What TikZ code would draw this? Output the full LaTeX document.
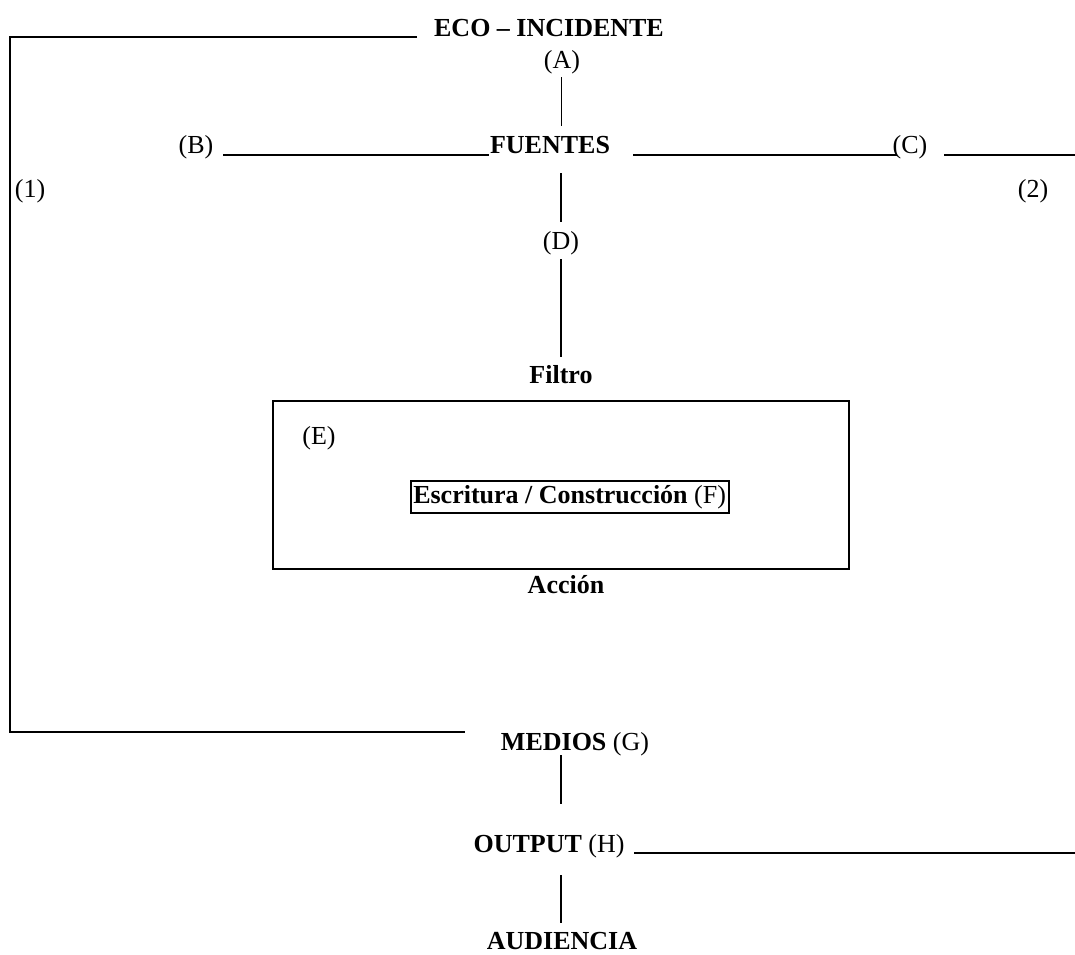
\documentclass[tikz,border=0pt]{standalone}
\usepackage{fontspec}
\setmainfont{Liberation Serif}
\newcommand\myfs{\fontsize{26}{31}\selectfont}
\tikzset{
  lbl/.style={inner sep=0pt, anchor=base, font=\myfs},
  hline/.style={line width=2pt},
  vline/.style={line width=1.7pt},
  boxline/.style={line width=1.9pt}
}
\begin{document}
\begin{tikzpicture}[x=1pt,y=-1pt]
\useasboundingbox (0,0) rectangle (1075,954);
% text nodes
\node[lbl] (eco) at (549,36.5) {\textbf{ECO – INCIDENTE}};
\node[lbl] (A) at (562,68) {(A)};
\node[lbl] (B) at (196,153) {(B)};
\node[lbl] (fuentes) at (550,153) {\textbf{FUENTES}};
\node[lbl] (C) at (910,153) {(C)};
\node[lbl] (one) at (30,197) {(1)};
\node[lbl] (two) at (1033,197) {(2)};
\node[lbl] (D) at (561,249) {(D)};
\node[lbl] (filtro) at (561,383) {\textbf{Filtro}};
\node[lbl] (E) at (319,444) {(E)};
\node[draw, boxline, font=\myfs, inner sep=0pt, minimum width=318pt, minimum height=32pt, anchor=center] (F) at (569.6,497) {\textbf{Escritura / Construcción} (F)};
\node[lbl] (accion) at (566,593) {\textbf{Acción}};
\node[lbl] (medios) at (575,750) {\textbf{MEDIOS} (G)};
\node[lbl] (output) at (549,852) {\textbf{OUTPUT} (H)};
\node[lbl] (audiencia) at (562,949.5) {\textbf{AUDIENCIA}};
% outer action box
\coordinate (boxNW) at (272.6,400.7);
\coordinate (boxSE) at (849.4,569);
\draw[boxline] (boxNW) rectangle (boxSE);
% line endpoints
\coordinate (topR) at (417,37);
\coordinate (topL) at (9.5,37);
\coordinate (botL) at (9.5,732);
\coordinate (botR) at (465,732);
\coordinate (a1) at (561.5,77);
\coordinate (a2) at (561.5,126);
\coordinate (b1) at (223,155);
\coordinate (b2) at (489,155);
\coordinate (c1) at (633,155);
\coordinate (c2) at (897,155);
\coordinate (c3) at (944,155);
\coordinate (c4) at (1075,155);
\coordinate (d1) at (561,173);
\coordinate (d2) at (561,222);
\coordinate (d3) at (561,259);
\coordinate (d4) at (561,357);
\coordinate (g1) at (561,755);
\coordinate (g2) at (561,804);
\coordinate (h1) at (634,853);
\coordinate (h2) at (1075,853);
\coordinate (h3) at (561,875);
\coordinate (h4) at (561,923);
% connectors
\draw[hline] (topR) -- (topL) -- (botL) -- (botR);
\draw[vline] (a1) -- (a2);
\draw[hline] (b1) -- (b2);
\draw[hline] (c1) -- (c2);
\draw[hline] (c3) -- (c4);
\draw[vline] (d1) -- (d2);
\draw[vline] (d3) -- (d4);
\draw[vline] (g1) -- (g2);
\draw[hline] (h1) -- (h2);
\draw[vline] (h3) -- (h4);
\end{tikzpicture}
\end{document}
